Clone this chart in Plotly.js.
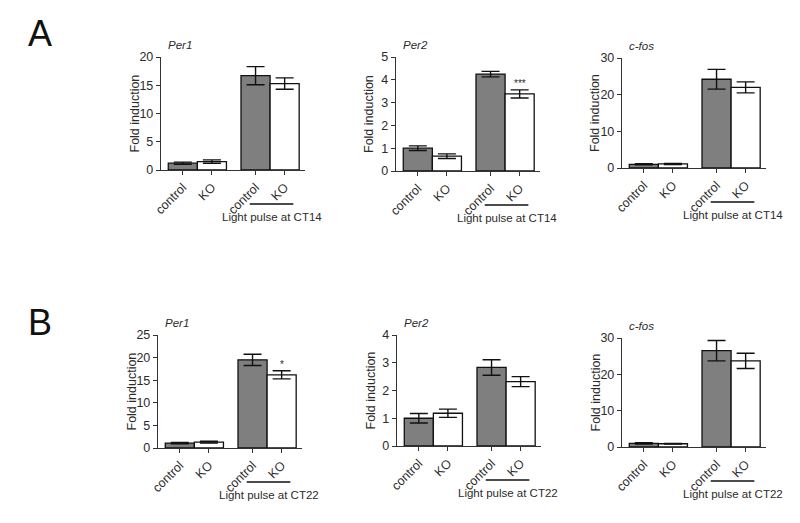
<!DOCTYPE html>
<html>
<head>
<meta charset="utf-8">
<script src="https://cdn.plot.ly/plotly-3.0.1.min.js"></script>
<style>html,body{margin:0;padding:0;background:#fff}#chart{width:800px;height:523px}</style>
</head>
<body>
<div id="chart"></div>
<script>
// ---- data ----
const categories = ['control', 'KO', 'control', 'KO'];
const positions = [0, 1, 2.5, 3.5];
const genes = ['Per1', 'Per2', 'c-fos'];
const panelLetters = ['A', 'B'];
const pulseLabels = ['Light pulse at CT14', 'Light pulse at CT22'];

const A_Per1 = [1.2, 1.5, 16.7, 15.3];
const A_Per1_err = [0.2, 0.3, 1.6, 1.0];
const A_Per2 = [1.0, 0.65, 4.25, 3.38];
const A_Per2_err = [0.1, 0.1, 0.12, 0.18];
const A_cfos = [1.0, 1.1, 24.2, 22.0];
const A_cfos_err = [0.15, 0.15, 2.7, 1.5];
const B_Per1 = [1.1, 1.3, 19.5, 16.2];
const B_Per1_err = [0.15, 0.2, 1.25, 0.9];
const B_Per2 = [1.0, 1.18, 2.83, 2.32];
const B_Per2_err = [0.17, 0.15, 0.28, 0.18];
const B_cfos = [1.0, 0.9, 26.5, 23.7];
const B_cfos_err = [0.2, 0.1, 2.8, 2.1];

const yMax = [20, 5, 30, 25, 4, 30];
const yStep = [5, 1, 10, 5, 1, 10];
const significance = ['', '***', '', '*', '', ''];

const values = [A_Per1, A_Per2, A_cfos, B_Per1, B_Per2, B_cfos];
const errors = [A_Per1_err, A_Per2_err, A_cfos_err, B_Per1_err, B_Per2_err, B_cfos_err];

// ---- layout geometry (pixels) ----
const W = 800, H = 523;
const panelX = [161, 396, 622, 158, 397, 622];
const panelTop = [57, 57, 58, 335, 335, 338];
const panelBottom = [170, 171, 168, 448, 446, 447];
const axisW = 144;
const xRange = [-0.75, 4.2];
const fillColors = ['#7f7f7f', '#ffffff', '#7f7f7f', '#ffffff'];
const textColor = '#2b2b2b';
const font = 'Liberation Sans, Arial, sans-serif';

const traces = [];
const layout = {
  width: W, height: H,
  margin: {l: 0, r: 0, t: 0, b: 0},
  paper_bgcolor: '#fff', plot_bgcolor: 'rgba(0,0,0,0)',
  showlegend: false,
  font: {family: font, color: textColor},
  annotations: [], shapes: []
};

for (let p = 0; p < 6; p++) {
  const sfx = p === 0 ? '' : String(p + 1);
  const xa = 'x' + sfx, ya = 'y' + sfx;
  traces.push({
    type: 'bar', x: positions, y: values[p], width: 1,
    xaxis: xa, yaxis: ya,
    marker: {color: fillColors, line: {color: '#111', width: 1.3}},
    error_y: {type: 'data', array: errors[p], visible: true, color: '#111', thickness: 1.4, width: 9},
    hoverinfo: 'skip'
  });
  const x0 = panelX[p] / W, x1 = (panelX[p] + axisW) / W;
  const y0 = 1 - panelBottom[p] / H, y1 = 1 - panelTop[p] / H;
  layout['xaxis' + sfx] = {
    domain: [x0, x1], range: xRange, anchor: ya,
    tickmode: 'array', tickvals: positions, ticktext: categories, tickangle: -45,
    ticks: 'outside', ticklen: 4, tickwidth: 1, tickcolor: '#333',
    showline: true, linecolor: '#333', linewidth: 1.2,
    showgrid: false, zeroline: false, fixedrange: true,
    tickfont: {size: 12.5, family: font, color: textColor}
  };
  layout['yaxis' + sfx] = {
    domain: [y0, y1], range: [0, yMax[p]], anchor: xa, dtick: yStep[p], tick0: 0,
    ticks: 'outside', ticklen: 4, tickwidth: 1, tickcolor: '#333',
    showline: true, linecolor: '#333', linewidth: 1.2,
    showgrid: false, zeroline: false, fixedrange: true,
    tickfont: {size: 12.5, family: font, color: textColor}
  };
  // axis title
  layout.annotations.push({
    xref: 'paper', yref: 'paper',
    x: (panelX[p] - 27) / W, y: (y0 + y1) / 2,
    text: 'Fold induction', textangle: -90, showarrow: false,
    xanchor: 'center', yanchor: 'middle',
    font: {size: 12.5, family: font, color: textColor}
  });
  // gene name
  layout.annotations.push({
    xref: 'paper', yref: 'paper',
    x: (panelX[p] + 5) / W, y: y1 + 4 / H,
    text: '<i>' + genes[p % 3] + '</i>', showarrow: false,
    xanchor: 'left', yanchor: 'bottom',
    font: {size: 11.5, family: font, color: textColor}
  });
  // light pulse bracket
  const lineY = 1 - (panelBottom[p] + 34) / H;
  layout.shapes.push({
    type: 'line', xref: xa, yref: 'paper',
    x0: 2.3, x1: 3.8, y0: lineY, y1: lineY,
    line: {color: '#111', width: 1.4}
  });
  layout.annotations.push({
    xref: xa, yref: 'paper',
    x: 3.05, y: lineY - 5 / H,
    text: pulseLabels[Math.floor(p / 3)], showarrow: false,
    xanchor: 'center', yanchor: 'top',
    font: {size: 11.5, family: font, color: textColor}
  });
  // significance
  if (significance[p]) {
    layout.annotations.push({
      xref: xa, yref: ya,
      x: positions[3], y: values[p][3] + errors[p][3],
      text: significance[p], showarrow: false,
      xanchor: 'center', yanchor: 'bottom', yshift: -1,
      font: {size: 10, family: font, color: textColor}
    });
  }
}

// panel letters
const letterY = [33, 322];
panelLetters.forEach((L, i) => {
  layout.annotations.push({
    xref: 'paper', yref: 'paper', x: 26 / W, y: 1 - letterY[i] / H,
    text: L, showarrow: false, xanchor: 'left', yanchor: 'middle',
    font: {size: 36, family: font, color: '#111'}
  });
});

Plotly.newPlot('chart', traces, layout, {staticPlot: true, displayModeBar: false});
</script>
</body>
</html>
